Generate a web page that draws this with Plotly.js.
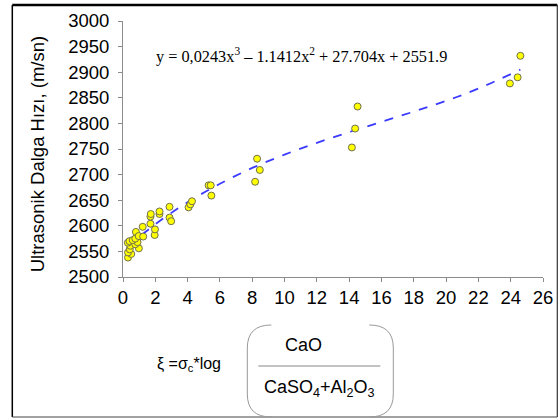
<!DOCTYPE html>
<html>
<head>
<meta charset="utf-8">
<script src="https://cdn.plot.ly/plotly-3.0.1.min.js"></script>
<style>html,body{margin:0;padding:0;background:#fff;}#chart{width:560px;height:419px;}</style>
</head>
<body>
<div id="chart"></div>
<script>
// Measured points: xi value and ultrasonic velocity (m/sn)
const xiValues = [0.31, 0.51, 0.31, 0.42, 0.45, 0.98, 0.76, 0.90, 0.30, 0.40, 0.60, 0.76, 0.80, 0.97, 1.25, 1.22,
  1.96, 1.98, 1.70, 1.70, 1.72, 2.26, 2.26, 2.88, 2.88, 2.98, 4.06, 4.17, 4.27, 5.30, 5.43, 5.47,
  8.18, 8.30, 8.47, 14.17, 14.37, 14.52, 23.95, 24.43, 24.60];
const velocity = [2538, 2545, 2548, 2554, 2561, 2556, 2564, 2568, 2567, 2570, 2572, 2575, 2588, 2580, 2579, 2598,
  2582, 2593, 2604, 2618, 2623, 2623, 2628, 2637, 2616, 2609, 2636, 2642, 2648, 2679, 2679, 2659,
  2686, 2731, 2709, 2753, 2790, 2833, 2878, 2890, 2932];
// Trend line
const trendX = [0.3, 2, 4, 6, 8, 10, 12, 14, 16, 18, 20, 22, 24.6];
const trendY = [2560, 2603, 2646, 2682, 2713, 2739, 2762, 2783, 2803, 2823, 2844, 2868, 2905];
const xTicks = [0, 2, 4, 6, 8, 10, 12, 14, 16, 18, 20, 22, 24, 26];
const yTicks = [2500, 2550, 2600, 2650, 2700, 2750, 2800, 2850, 2900, 2950, 3000];

const W = 560, H = 419;
const m = {l: 122.7, r: 17.3, t: 21, b: 142};
const pw = W - m.l - m.r, ph = H - m.t - m.b;
const PX = px => (px - m.l) / pw;
const PY = py => 1 - (py - m.t) / ph;

const traces = [
  {x: trendX, y: trendY, mode: 'lines', line: {color: '#3b3bff', width: 1.8, dash: 'dash', shape: 'spline'},
   hoverinfo: 'skip', showlegend: false},
  {x: xiValues, y: velocity, mode: 'markers', showlegend: false,
   marker: {color: '#ffff00', size: 7, line: {color: '#6f6f4f', width: 1}}}
];

const axisCommon = {showgrid: false, zeroline: false, showline: true, linecolor: '#8c8c8c', linewidth: 1,
  ticks: 'outside', ticklen: 4, tickcolor: '#8c8c8c', tickfont: {family: 'Liberation Sans, Arial', size: 18.5, color: '#000'}};

const L = (x0, y0, x1, y1, c, w) => ({type: 'line', xref: 'paper', yref: 'paper', x0: PX(x0), y0: PY(y0), x1: PX(x1), y1: PY(y1), line: {color: c, width: w}});
const pathShape = (d, c, w) => ({type: 'path', xref: 'paper', yref: 'paper', path: d, line: {color: c, width: w}});
const pt = (x, y) => PX(x).toFixed(4) + ',' + PY(y).toFixed(4);

const shapes = [
  L(12, 5, 557, 5, '#000', 2.5),
  L(12, 5, 12, 417, '#000', 1.5),
  L(557, 5, 557, 417, '#333', 1.2),
  L(12, 417, 557, 417, '#444', 1.2),
  L(258, 366, 380, 366, '#888', 1),
  pathShape('M ' + pt(271, 325) + ' Q ' + pt(247, 325) + ' ' + pt(247, 348) + ' L ' + pt(247, 394) + ' Q ' + pt(247, 417) + ' ' + pt(271, 417), '#999', 1),
  pathShape('M ' + pt(369, 325) + ' Q ' + pt(393, 325) + ' ' + pt(393, 348) + ' L ' + pt(393, 394) + ' Q ' + pt(393, 417) + ' ' + pt(369, 417), '#999', 1)
];

const ann = (text, x, y, size, fam, extra) => Object.assign({text, xref: 'paper', yref: 'paper', x: PX(x), y: PY(y),
  showarrow: false, xanchor: 'center', yanchor: 'middle', font: {family: fam, size, color: '#000'}}, extra || {});

const annotations = [
  ann('y = 0,0243x<sup>3</sup> – 1.1412x<sup>2</sup> + 27.704x + 2551.9', 301.5, 55, 16.3, 'Liberation Serif, Times New Roman'),
  ann('Ultrasonik Dalga Hızı, (m/sn)', 37, 154, 18.5, 'Liberation Sans, Arial', {textangle: -90}),
  ann('ξ =σ<sub>c</sub>*log', 189, 364, 16, 'Liberation Sans, Arial'),
  ann('CaO', 303, 345, 18, 'Liberation Sans, Arial'),
  ann('CaSO<sub>4</sub>+Al<sub>2</sub>O<sub>3</sub>', 319.5, 388, 18, 'Liberation Sans, Arial')
];

const layout = {
  width: W, height: H, margin: m, paper_bgcolor: '#fff', plot_bgcolor: '#fff', showlegend: false,
  xaxis: Object.assign({}, axisCommon, {range: [0, 26], tickvals: xTicks, ticktext: xTicks.map(String)}),
  yaxis: Object.assign({}, axisCommon, {range: [2500, 3000], tickvals: yTicks, ticktext: yTicks.map(String), ticklabelstandoff: 5}),
  shapes, annotations
};

Plotly.newPlot('chart', traces, layout, {displayModeBar: false, staticPlot: true});
</script>
</body>
</html>
